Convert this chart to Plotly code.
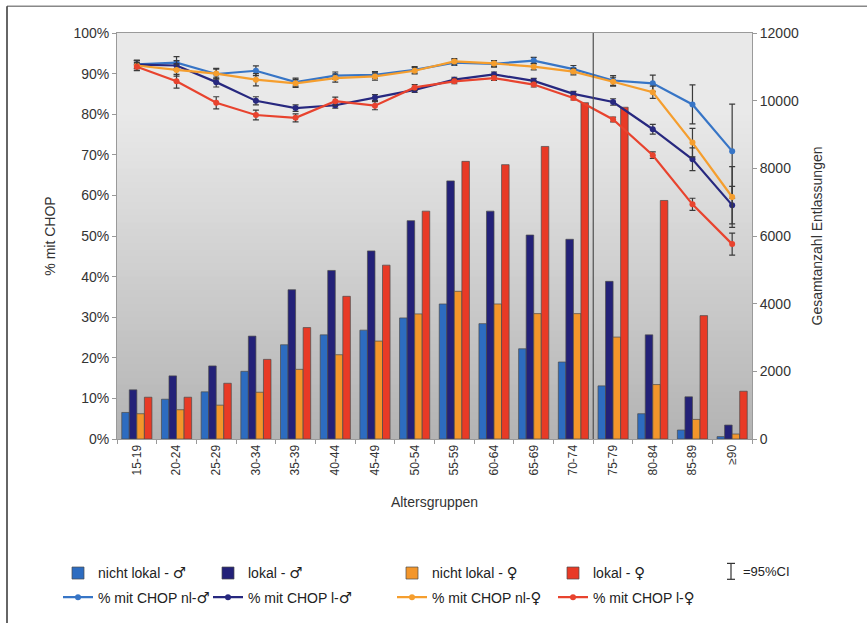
import plotly.graph_objects as go

categories = ["15-19", "20-24", "25-29", "30-34", "35-39", "40-44", "45-49", "50-54",
              "55-59", "60-64", "65-69", "70-74", "75-79", "80-84", "85-89", "≥90"]

# Bars (Gesamtanzahl Entlassungen, right axis)
nicht_lokal_m = [785, 1176, 1394, 2000, 2785, 3079, 3217, 3579, 3991, 3410, 2667, 2276, 1570, 747, 265, 71]
lokal_m = [1453, 1865, 2159, 3041, 4412, 4982, 5559, 6453, 7629, 6735, 6029, 5903, 4659, 3079, 1247, 412]
nicht_lokal_w = [747, 865, 1000, 1382, 2059, 2491, 2894, 3697, 4365, 3991, 3706, 3706, 3012, 1609, 579, 147]
lokal_w = [1235, 1235, 1647, 2353, 3294, 4217, 5138, 6735, 8206, 8109, 8647, 9941, 9806, 7050, 3647, 1412]

# Lines (% mit CHOP, left axis)
chop_nl_m = [92.3, 92.7, 89.9, 90.7, 87.9, 89.5, 89.7, 90.9, 92.7, 92.4, 93.2, 91.1, 88.3, 87.6, 82.4, 70.9]
chop_l_m = [92.2, 92.0, 87.9, 83.3, 81.5, 82.2, 84.1, 86.0, 88.5, 89.8, 88.2, 85.0, 83.0, 76.3, 68.9, 57.6]
chop_nl_w = [92.0, 90.9, 90.0, 88.5, 87.6, 88.9, 89.3, 90.7, 93.0, 92.5, 91.7, 90.5, 88.0, 85.4, 73.0, 59.6]
chop_l_w = [91.7, 88.1, 82.8, 79.8, 79.1, 83.2, 82.1, 86.6, 88.1, 88.9, 87.3, 84.0, 78.7, 69.9, 57.8, 48.0]

# 95% CI half-widths
ci_nl_m = [1.0, 1.5, 1.2, 1.2, 1.0, 0.9, 0.8, 0.8, 0.7, 0.8, 0.8, 0.9, 1.2, 2.0, 4.8, 11.6]
ci_l_m = [1.0, 1.2, 1.2, 1.0, 0.8, 0.7, 0.7, 0.6, 0.6, 0.6, 0.6, 0.6, 0.8, 1.2, 2.8, 4.6]
ci_nl_w = [1.2, 1.5, 1.3, 1.5, 1.0, 1.0, 0.9, 0.8, 0.7, 0.7, 0.8, 0.8, 1.1, 1.5, 3.5, 7.5]
ci_l_w = [1.0, 1.7, 1.5, 1.2, 1.0, 1.0, 1.0, 0.7, 0.6, 0.6, 0.6, 0.5, 0.6, 0.8, 1.5, 2.7]

FONT = "Liberation Sans, Arial, sans-serif"
TXT = "#333333"
M = "<span style=\"font-family:'DejaVu Sans';font-size:15px\">♂</span>"
W = "<span style=\"font-family:'DejaVu Sans';font-size:15px\">♀</span>"

bar_specs = [
    ("nicht lokal - " + M, nicht_lokal_m, "#2d6cc0", "legend"),
    ("lokal - " + M, lokal_m, "#232178", "legend2"),
    ("nicht lokal - " + W, nicht_lokal_w, "#f3962b", "legend3"),
    ("lokal - " + W, lokal_w, "#e83a26", "legend4"),
]
line_specs = [
    ("% mit CHOP nl-" + M, chop_nl_m, ci_nl_m, "#3775c6", "legend"),
    ("% mit CHOP l-" + M, chop_l_m, ci_l_m, "#27287f", "legend2"),
    ("% mit CHOP nl-" + W, chop_nl_w, ci_nl_w, "#f59e2e", "legend3"),
    ("% mit CHOP l-" + W, chop_l_w, ci_l_w, "#e8432e", "legend4"),
]

fig = go.Figure()
for i, (name, vals, col, lg) in enumerate(bar_specs):
    fig.add_trace(go.Bar(
        x=categories, y=vals, name=name, yaxis="y",
        marker=dict(color=col, line=dict(color="#4a4a4a", width=0.7)),
        legend=lg, legendgroup="b%d" % i,
    ))
for i, (name, vals, ci, col, lg) in enumerate(line_specs):
    fig.add_trace(go.Scatter(
        x=categories, y=vals, name=name, yaxis="y2", mode="lines+markers",
        line=dict(color=col, width=2.2), marker=dict(color=col, size=6),
        error_y=dict(type="data", array=ci, visible=True, color="#3a3a3a",
                     thickness=1.2, width=3),
        legend=lg, legendgroup="l%d" % i,
    ))

# gradient background of the plot area
shapes = []
N = 60
def grad(t):
    # t: 0 bottom -> 1 top
    lo, hi = 0xb3, 0xe9
    if t >= 0.8:
        v = hi
    else:
        v = lo + (hi - lo) * (t / 0.8)
    v = int(round(v))
    return "rgb(%d,%d,%d)" % (v, v, v)
for k in range(N):
    y0 = k / N
    y1 = (k + 1) / N
    shapes.append(dict(type="rect", xref="paper", yref="paper", x0=0, x1=1,
                       y0=y0, y1=y1 + 0.002, fillcolor=grad((y0 + y1) / 2),
                       line=dict(width=0), layer="below"))
# separator line between 70-74 and 75-79
shapes.append(dict(type="line", xref="x", yref="paper", x0=11.5, x1=11.5, y0=0, y1=1,
                   line=dict(color="#505050", width=1.2)))
# figure frame (top and left)
shapes.append(dict(type="line", xref="paper", yref="paper",
                   x0=(7 - 117) / 635, x1=(867 - 117) / 635,
                   y0=(441 - 6) / 408, y1=(441 - 6) / 408,
                   line=dict(color="#888888", width=1.5)))
shapes.append(dict(type="line", xref="paper", yref="paper",
                   x0=(7 - 117) / 635, x1=(7 - 117) / 635,
                   y0=(441 - 6) / 408, y1=(441 - 626) / 408,
                   line=dict(color="#333333", width=1.5)))
# CI key glyph
cx = (731 - 117) / 635
ya = (441 - 566) / 408
yb = (441 - 582) / 408
cw = 4 / 635
shapes.append(dict(type="line", xref="paper", yref="paper", x0=cx, x1=cx, y0=ya, y1=yb,
                   line=dict(color="#333333", width=1.2)))
for yy in (ya, yb):
    shapes.append(dict(type="line", xref="paper", yref="paper", x0=cx - cw, x1=cx + cw,
                       y0=yy, y1=yy, line=dict(color="#333333", width=1.2)))

annotations = [dict(text="=95%CI", xref="paper", yref="paper",
                    x=(741 - 117) / 635, y=(441 - 574) / 408, xanchor="left", yanchor="middle",
                    showarrow=False, font=dict(family=FONT, size=13, color="#222"))]

leg_common = dict(yanchor="top", y=(441 - 560) / 408, xanchor="left",
                  bgcolor="rgba(0,0,0,0)", tracegroupgap=3, itemwidth=30,
                  font=dict(family=FONT, size=14, color="#222"))
legend_x = [(58 - 117) / 635, (208 - 117) / 635, (392 - 117) / 635, (553 - 117) / 635]

fig.update_layout(
    width=867, height=626,
    margin=dict(l=117, r=115, t=33, b=185),
    paper_bgcolor="white", plot_bgcolor="#d0d0d0",
    barmode="group", bargap=0.24, bargroupgap=0,
    font=dict(family=FONT, color=TXT, size=14),
    shapes=shapes, annotations=annotations,
    legend=dict(x=legend_x[0], **leg_common),
    legend2=dict(x=legend_x[1], **leg_common),
    legend3=dict(x=legend_x[2], **leg_common),
    legend4=dict(x=legend_x[3], **leg_common),
    xaxis=dict(type="category", range=[-0.5, 15.5], tickangle=-90, tickson="boundaries",
               ticks="outside", ticklen=4, tickcolor="#999", showline=True,
               linecolor="#9a9a9a", linewidth=1, mirror=True, showgrid=False,
               tickfont=dict(family=FONT, size=12, color=TXT),
               title=dict(text="Altersgruppen", font=dict(family=FONT, size=14, color=TXT),
                          standoff=22)),
    yaxis=dict(side="right", range=[0, 12000], tick0=0, dtick=2000, tickformat="d",
               showgrid=False, zeroline=False, showline=True, linecolor="#9a9a9a", linewidth=1,
               ticks="outside", ticklen=4, tickcolor="#999",
               tickfont=dict(family=FONT, size=14, color=TXT),
               title=dict(text="Gesamtanzahl Entlassungen",
                          font=dict(family=FONT, size=14, color=TXT), standoff=14)),
    yaxis2=dict(overlaying="y", side="left", range=[0, 100], tick0=0, dtick=10,
                ticksuffix="%", showgrid=False, zeroline=False, showline=True,
                linecolor="#9a9a9a", linewidth=1, ticks="outside", ticklen=4, tickcolor="#999",
                tickfont=dict(family=FONT, size=14, color=TXT),
                title=dict(text="% mit CHOP", font=dict(family=FONT, size=14, color=TXT),
                           standoff=14)),
)

fig.write_html("out.html")
